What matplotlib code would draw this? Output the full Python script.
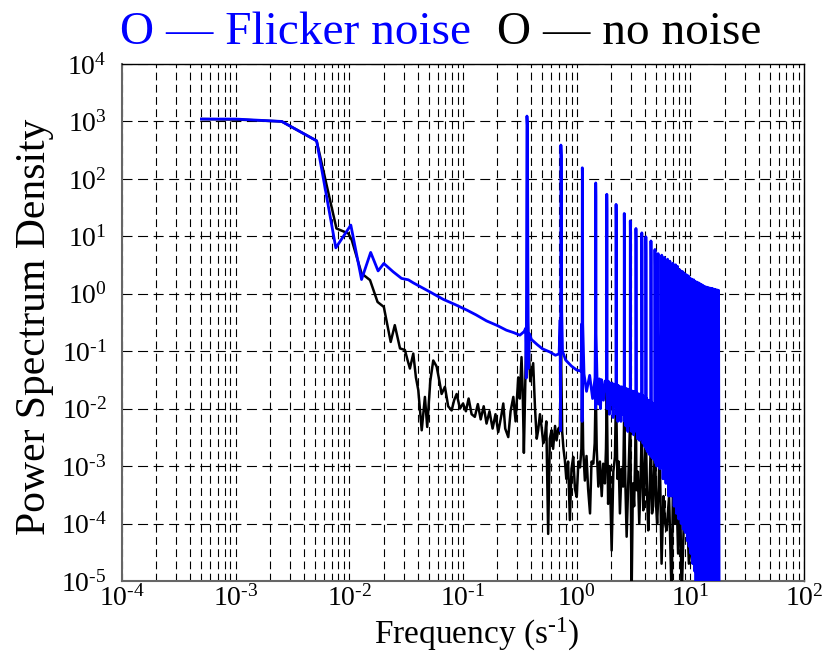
import matplotlib
matplotlib.use("Agg")
import matplotlib.pyplot as plt

plt.rcParams['font.family'] = ['Liberation Serif', 'DejaVu Serif']
plt.rcParams['mathtext.fontset'] = 'custom'
plt.rcParams['mathtext.rm'] = 'Liberation Serif'
plt.rcParams['mathtext.it'] = 'Liberation Serif:italic'

# spectrum with flicker noise (blue)
blue_low_f = [5.0e-4, 1.0e-3, 1.6e-3, 2.54e-3, 5.15e-3, 7.6e-3, 1.03e-2, 1.28e-2,
              1.54e-2, 1.79e-2, 2.01e-2, 2.43e-2, 2.88e-2, 3.3e-2, 3.65e-2, 4.3e-2,
              5.1e-2, 6.7e-2, 8.5e-2, 0.108, 0.13, 0.161, 0.2, 0.241, 0.28, 0.316]
blue_low_p = [1.1e3, 1.1e3, 1.05e3, 1.0e3, 4.6e2, 6.3, 15.7, 1.77,
              5.25, 2.5, 3.37, 2.41, 1.85, 1.75, 1.55, 1.3,
              1.08, 0.80, 0.65, 0.52, 0.43, 0.337, 0.28, 0.232, 0.21, 0.19]

blue_harm_f = [0.345, 0.355, 0.360, 0.365, 0.369, 0.372, 0.376, 0.385, 0.40, 0.45, 0.50, 0.58, 0.65,
               0.70, 0.715, 0.72, 0.726, 0.732, 0.738, 0.75, 0.80, 0.9, 1.0,
               1.09, 1.11, 1.115, 1.12, 1.125, 1.13, 1.16, 1.22, 1.3, 1.38,
               1.45, 1.46, 1.465, 1.47, 1.475, 1.48, 1.51, 1.55, 1.58, 1.62, 1.65, 1.72, 1.77,
               1.82, 1.835, 1.84, 1.845, 1.85, 1.9, 1.94, 1.97, 2.01, 2.05, 2.09, 2.12, 2.16,
               2.2, 2.215, 2.22, 2.225, 2.235, 2.27, 2.3, 2.34, 2.37, 2.41, 2.45, 2.49, 2.52, 2.56,
               2.60, 2.615, 2.62, 2.625, 2.64, 2.67, 2.7, 2.73, 2.75, 2.79, 2.82, 2.85, 2.88, 2.91,
               2.94, 2.955, 2.96, 2.97, 2.98, 3.01, 3.04, 3.07, 3.1, 3.14, 3.17, 3.21, 3.24, 3.27,
               3.30, 3.315, 3.32, 3.33, 3.345, 3.38, 3.42, 3.46, 3.5, 3.54, 3.57, 3.61, 3.64, 3.68,
               3.72, 3.735, 3.74, 3.75, 3.765, 3.8, 3.83, 3.87, 3.9, 3.94, 3.97, 4.01,
               4.05, 4.06, 4.07, 4.09, 4.13, 4.17, 4.21, 4.26, 4.3, 4.34, 4.38, 4.43,
               4.49, 4.50, 4.51, 4.53, 4.57, 4.6, 4.65, 4.7, 4.74, 4.78, 4.82,
               4.87, 4.88, 4.89, 4.92, 4.95, 4.98, 5.02, 5.05, 5.1,
               5.2, 5.3, 5.4, 5.5, 5.6, 5.68, 5.75, 5.82, 5.9, 6.0, 6.1, 6.2, 6.3, 6.38, 6.45, 6.52,
               6.6, 6.7, 6.8, 6.9, 7.0, 7.1, 7.2, 7.3,
               7.4, 7.55, 7.7, 7.9, 8.1, 8.3, 8.5, 8.65, 8.8, 9.0, 9.2, 9.4,
               9.6, 9.75, 9.9, 10.1, 10.3, 10.5, 10.7, 10.85, 11.0, 11.2, 11.4, 11.6,
               11.8, 11.95, 12.1, 12.3, 12.5, 12.7, 12.9, 13.05, 13.2, 13.4, 13.6, 13.8,
               14.0, 14.15, 14.3, 14.5, 14.7, 14.9, 15.1, 15.25, 15.4, 15.6, 15.8, 16.0,
               16.2, 16.35, 16.5, 16.7, 16.9, 17.1, 17.3, 17.5, 17.7, 17.9]
blue_harm_p = [0.22, 0.25, 0.034, 1240, 800, 2.6, 0.05, 0.20, 0.16, 0.13, 0.11, 0.097, 0.085,
               0.09, 0.35, 0.0041, 388, 250, 0.5, 0.1, 0.07, 0.055, 0.047,
               0.045, 0.3, 0.006, 156, 90, 0.3, 0.04, 0.02, 0.038, 0.015,
               0.035, 0.2, 0.01, 85, 50, 0.2, 0.034, 0.012, 0.033, 0.01, 0.032, 0.014, 0.03,
               0.031, 0.02, 54, 30, 0.01, 0.03, 0.008, 0.028, 0.012, 0.028, 0.007, 0.026, 0.011,
               0.027, 0.015, 36, 20, 0.008, 0.026, 0.006, 0.025, 0.009, 0.024, 0.006, 0.024, 0.008, 0.023,
               0.024, 0.012, 25, 15, 0.006, 0.023, 0.005, 0.022, 0.007, 0.022, 0.004, 0.021, 0.006, 0.021,
               0.022, 0.01, 18.6, 10, 0.005, 0.021, 0.004, 0.02, 0.005, 0.02, 0.0035, 0.019, 0.005, 0.019,
               0.02, 0.008, 13.7, 8, 0.004, 0.019, 0.003, 0.018, 0.004, 0.018, 0.0028, 0.017, 0.004, 0.017,
               0.018, 0.006, 11.5, 6, 0.003, 0.017, 0.0025, 0.016, 0.0032, 0.016, 0.0022, 0.015,
               0.016, 9.8, 5, 0.002, 0.015, 0.0018, 0.014, 0.0022, 0.014, 0.0016, 0.013, 0.0019,
               0.014, 8.3, 4, 0.0015, 0.013, 0.0014, 0.012, 0.0015, 0.012, 0.0013, 0.011,
               0.012, 5.9, 3, 0.0012, 0.01, 0.0011, 0.01, 0.001, 0.009,
               5.0, 0.004, 9e-4, 0.006, 4.7, 0.003, 6e-4, 0.004, 4.3, 0.002, 5e-4, 0.003, 4.0, 0.0015, 3e-4, 0.002,
               3.7, 0.001, 3e-4, 0.0015, 3.4, 0.001, 2e-4, 0.001,
               3.2, 1.5e-4, 3.0, 1.2e-4, 2.6, 1e-4, 2.45, 8e-5, 2.3, 7e-5, 2.15, 5e-5,
               2.05, 4e-5, 1.9, 3e-5, 1.8, 2e-5, 1.75, 1.5e-5, 1.65, 5e-6, 1.6, 5e-6,
               1.55, 5e-6, 1.5, 5e-6, 1.45, 5e-6, 1.4, 5e-6, 1.35, 5e-6, 1.32, 5e-6,
               1.3, 5e-5, 1.28, 5e-6, 1.26, 5e-6, 1.25, 8e-5, 1.24, 5e-6, 1.22, 5e-6,
               1.2, 5e-6, 1.18, 5e-6, 1.17, 5e-6, 1.16, 5e-6, 1.15, 1e-5]

# spectrum without noise (black)
black_f = [5.0e-4, 1.0e-3, 2.54e-3, 5.15e-3, 6.76e-3, 7.7e-3, 9.8e-3, 1.05e-2, 1.28e-2,
           1.52e-2, 1.77e-2, 2.01e-2, 2.31e-2, 2.51e-2, 2.79e-2, 3.08e-2, 3.25e-2, 3.41e-2, 3.65e-2,
           3.85e-2, 4.04e-2, 4.33e-2, 4.62e-2, 4.84e-2, 5.15e-2, 5.47e-2, 5.86e-2, 6.2e-2, 6.48e-2,
           6.93e-2, 7.4e-2, 7.94e-2, 8.35e-2, 8.79e-2, 9.4e-2,
           0.100, 0.106, 0.112, 0.119, 0.127, 0.135, 0.143, 0.152, 0.161, 0.171, 0.182, 0.193,
           0.204, 0.217, 0.226, 0.235, 0.250, 0.262, 0.277, 0.29, 0.306, 0.316, 0.327, 0.335,
           0.343, 0.355, 0.367, 0.375, 0.39, 0.414, 0.43, 0.445, 0.458, 0.475, 0.491, 0.508,
           0.525, 0.54, 0.561, 0.58, 0.601, 0.62, 0.645, 0.665, 0.69, 0.711, 0.728, 0.745,
           0.765, 0.787, 0.81, 0.84, 0.871, 0.9, 0.932, 0.965, 1.0, 1.035, 1.07, 1.1, 1.12,
           1.14, 1.18, 1.22, 1.26, 1.31, 1.35, 1.40, 1.44, 1.47, 1.5, 1.55, 1.6, 1.66, 1.71,
           1.77, 1.81, 1.84, 1.89, 1.95, 2.03, 2.1, 2.17, 2.22, 2.28, 2.34, 2.40, 2.48, 2.56,
           2.62, 2.68, 2.75, 2.85, 2.96, 3.04, 3.12, 3.2, 3.32, 3.36, 3.45, 3.55, 3.65, 3.74,
           3.85, 3.95, 4.06, 4.16, 4.26, 4.38, 4.50, 4.6, 4.7, 4.88, 5.0, 5.1, 5.25, 5.37,
           5.58, 5.8, 6.0, 6.18, 6.5, 6.84, 7.06, 7.3, 7.57, 7.8, 8.09, 8.38, 8.8, 9.26, 9.7,
           10.2, 10.7, 11.3, 11.9, 12.5, 13.2, 14.0, 15.0, 15.9, 16.2, 16.8]
black_p = [1.1e3, 1.08e3, 1.0e3, 4.6e2, 43, 13.7, 11.2, 8.6, 2.26,
           1.73, 0.72, 0.59, 0.145, 0.284, 0.112, 0.105, 0.07, 0.050, 0.091,
           0.035, 0.021, 4.2e-3, 0.016, 4.8e-3, 0.03, 0.069, 0.054, 0.03, 0.018,
           0.024, 0.011, 9.3e-3, 0.014, 0.018, 0.01,
           0.0123, 0.009, 0.015, 0.008, 0.0072, 0.012, 0.0065, 0.011, 0.0055, 0.009, 0.0045, 0.008,
           0.0039, 0.0075, 0.0123, 0.0045, 0.0032, 0.009, 0.016, 0.006, 0.035, 0.015, 0.079, 0.02,
           0.0017, 0.05, 0.6, 0.18, 0.03, 0.062, 0.01, 0.003, 0.0042, 0.008, 0.0048, 0.0025,
           0.0032, 0.006, 6.6e-5, 0.003, 0.0042, 0.002, 0.005, 0.0028, 0.0045, 0.0048, 0.105, 0.004,
           0.002, 0.00126, 0.0006, 0.0012, 1.15e-4, 0.0009, 0.00145, 0.0004, 2.9e-4, 0.0012, 9.5e-4, 0.002, 0.03,
           0.002, 5.6e-4, 0.0015, 0.0004, 1.5e-4, 0.0012, 1.1e-3, 0.0025, 0.025, 0.002, 4.4e-4, 0.0012, 0.0003, 1.1e-3,
           0.0005, 0.002, 0.02, 2.2e-4, 0.001, 3.4e-5, 0.0008, 1.45e-3, 0.02, 0.0006, 0.0012, 1.5e-4, 0.0009, 4.4e-4,
           0.01, 0.0005, 5.9e-5, 0.0006, 8e-3, 5e-6, 0.0005, 0.0002, 6.3e-3, 3.8e-4, 0.0008, 0.0001, 0.0006, 5e-3,
           1.7e-4, 0.0006, 4e-3, 0.0003, 7.6e-5, 0.0004, 3.2e-3, 0.00015, 2e-4, 2.5e-3, 0.0002, 1e-4, 0.0004, 2e-3,
           2e-5, 0.0003, 0.0001, 7.6e-5, 0.0003, 5e-6, 1e-3, 0.0001, 2.9e-4, 3e-5, 5e-4, 5e-6, 0.00015, 2.9e-4, 2e-5,
           4.5e-5, 0.00012, 1e-4, 8e-6, 2e-5, 5e-5, 6e-5, 1e-5, 1.3e-4, 2e-5, 3e-5]

xticks = [1e-4, 1e-3, 1e-2, 1e-1, 1e0, 1e1, 1e2]
xtick_labels = ['$\\mathrm{10^{\u20104}}$', '$\\mathrm{10^{\u20103}}$', '$\\mathrm{10^{\u20102}}$',
                '$\\mathrm{10^{\u20101}}$', '$\\mathrm{10^{0}}$', '$\\mathrm{10^{1}}$', '$\\mathrm{10^{2}}$']
yticks = [1e-5, 1e-4, 1e-3, 1e-2, 1e-1, 1e0, 1e1, 1e2, 1e3, 1e4]
ytick_labels = ['$\\mathrm{10^{\u20105}}$', '$\\mathrm{10^{\u20104}}$', '$\\mathrm{10^{\u20103}}$',
                '$\\mathrm{10^{\u20102}}$', '$\\mathrm{10^{\u20101}}$', '$\\mathrm{10^{0}}$',
                '$\\mathrm{10^{1}}$', '$\\mathrm{10^{2}}$', '$\\mathrm{10^{3}}$', '$\\mathrm{10^{4}}$']

fig = plt.figure(figsize=(8.25, 6.53), dpi=100)
ax = fig.add_axes([0.1479, 0.1103, 0.8267, 0.7917])

ax.plot(black_f, black_p, color='black', lw=1.8, zorder=3)
ax.plot(blue_low_f + blue_harm_f, blue_low_p + blue_harm_p, color='#0000ff', lw=2.0, zorder=4)

ax.set_xscale('log')
ax.set_yscale('log')
ax.set_xlim(1e-4, 1e2)
ax.set_ylim(1e-5, 1e4)
ax.set_xticks(xticks)
ax.set_xticklabels(xtick_labels, fontsize=20)
ax.set_yticks(yticks)
ax.set_yticklabels(ytick_labels, fontsize=20)
ax.xaxis.set_minor_locator(matplotlib.ticker.LogLocator(base=10, subs=range(2, 10), numticks=20))
ax.yaxis.set_minor_locator(matplotlib.ticker.NullLocator())
ax.tick_params(which='both', length=0)
ax.tick_params(axis='x', pad=3)
ax.tick_params(axis='y', pad=11)

ax.grid(True, axis='x', which='both', color='black', lw=0.8, ls=(0, (7, 4)))
ax.grid(True, axis='y', which='major', color='black', lw=0.8, ls=(0, (9, 5)))
ax.set_axisbelow(True)
for side in ['left', 'bottom']:
    ax.spines[side].set_color('#666666')
    ax.spines[side].set_linewidth(1.5)
for side in ['top', 'right']:
    ax.spines[side].set_color('black')
    ax.spines[side].set_linewidth(1.0)

fig.text(0.578, 0.0, 'Frequency (s$\\mathrm{^{\u20101}}$)', fontsize=24, ha='center', va='bottom')
fig.text(0.042, 0.499, 'Power Spectrum Density', fontsize=30, rotation=90, ha='center', va='center')
fig.text(0.1455, 0.932, 'O \u2014 Flicker noise', fontsize=34, color='#0000ff', va='baseline')
fig.text(0.6024, 0.932, 'O \u2014 no noise', fontsize=34, color='black', va='baseline')

fig.savefig('out.png', dpi=100)
